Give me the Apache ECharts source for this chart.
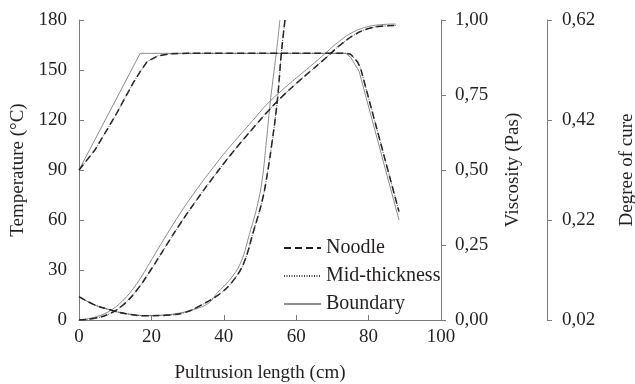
<!DOCTYPE html>
<html>
<head>
<meta charset="utf-8">
<script src="https://cdn.jsdelivr.net/npm/echarts@6/dist/echarts.min.js"></script>
<style>
  html, body { margin: 0; padding: 0; background: #fff; }
  #chart { width: 635px; height: 384px; }
</style>
</head>
<body>
<div id="chart"></div>
<script>
// legend names
var positions = ['Noodle', 'Mid-thickness', 'Boundary'];

// temperature (°C) vs pultrusion length (cm)
var tempNoodle = [[0, 90], [4.4, 102], [9.9, 122], [14.9, 142], [16.9, 149], [18.8, 155], [21.8, 158.5], [25.2, 159.7], [30, 160], [73.7, 160], [75, 159.5], [76.9, 155], [77.8, 151], [88.4, 65]];
var tempMid = [[0, 90], [4.4, 102], [9.9, 122], [14.9, 142], [16.9, 149], [18.8, 155], [21.8, 158.5], [25.2, 159.7], [30, 160], [73.7, 160], [75, 159.5], [76.9, 155], [77.8, 151], [88.4, 65]];
var tempBoundary = [[0, 90], [16.9, 160], [73.7, 160], [75.1, 157.5], [77.4, 149], [88.4, 60]];

// viscosity (Pas)
var viscNoodle = [[0, 0.078], [4, 0.052], [8.5, 0.034], [13, 0.021], [18.5, 0.014], [24, 0.016], [29, 0.024], [33.5, 0.048], [39.1, 0.089], [42.7, 0.133], [45.5, 0.189], [48.3, 0.30], [50.2, 0.378], [51.5, 0.45], [53.3, 0.59], [54.8, 0.733], [55.9, 0.89], [56.9, 1.0]];
var viscMid = [[0, 0.078], [4, 0.052], [8.5, 0.034], [13, 0.021], [18.5, 0.014], [24, 0.016], [29, 0.024], [33.5, 0.048], [39.1, 0.089], [42.7, 0.133], [45.5, 0.189], [48.3, 0.30], [50.2, 0.378], [51.5, 0.45], [53.3, 0.59], [54.8, 0.733], [55.9, 0.89], [56.9, 1.0]];
var viscBoundary = [[0, 0.078], [4, 0.052], [8.5, 0.034], [13, 0.021], [18.5, 0.015], [24, 0.017], [29, 0.026], [33, 0.040], [36, 0.058], [38.1, 0.089], [41.5, 0.132], [44.6, 0.189], [47.4, 0.30], [49.2, 0.378], [50.6, 0.467], [51.8, 0.6], [52.9, 0.733], [54.5, 0.89], [55.5, 1.0]];

// degree of cure
var cureNoodle = [[0, 0.02], [4, 0.023], [8, 0.031], [12, 0.049], [16, 0.08], [20, 0.122], [24, 0.168], [28, 0.213], [32, 0.255], [36, 0.295], [40, 0.333], [44, 0.369], [48, 0.403], [52, 0.436], [56, 0.466], [60, 0.493], [64, 0.518], [68, 0.543], [72, 0.569], [76, 0.59], [80, 0.603], [84, 0.608], [87.5, 0.609]];
var cureMid = [[0, 0.02], [4, 0.023], [8, 0.031], [12, 0.049], [16, 0.08], [20, 0.122], [24, 0.168], [28, 0.213], [32, 0.255], [36, 0.295], [40, 0.333], [44, 0.369], [48, 0.403], [52, 0.436], [56, 0.466], [60, 0.493], [64, 0.518], [68, 0.543], [72, 0.569], [76, 0.59], [80, 0.603], [84, 0.608], [87.5, 0.609]];
var cureBoundary = [[0, 0.02], [4, 0.025], [8, 0.036], [12, 0.058], [16, 0.093], [20, 0.14], [24, 0.188], [28, 0.234], [32, 0.276], [36, 0.315], [40, 0.352], [44, 0.386], [48, 0.419], [52, 0.452], [56, 0.479], [60, 0.504], [64, 0.528], [68, 0.553], [72, 0.578], [76, 0.597], [80, 0.607], [84, 0.611], [87.5, 0.612]];

var font = '"Liberation Serif", "Times New Roman", serif';
var txt = '#231f20';
var axisGray = '#7a7a7a';

var styles = {
    'Boundary': { color: '#8c8c8c', width: 1, type: 'solid' },
    'Noodle': { color: '#1a1a1a', width: 1.5, type: [7, 4] },
    'Mid-thickness': { color: '#444', width: 1, type: [1, 1.5] }
};

function comma(v) {
    return v.toFixed(2).replace('.', ',');
}

function mk(name, data, axis, smooth) {
    return {
        name: name,
        type: 'line',
        yAxisIndex: axis,
        data: data,
        symbol: 'none',
        smooth: smooth ? 0.4 : false,
        lineStyle: styles[name],
        itemStyle: { color: styles[name].color },
        z: name == 'Boundary' ? 1 : (name == 'Noodle' ? 2 : 3)
    };
}

var chart = echarts.init(document.getElementById('chart'));

var yBase = {
    type: 'value',
    splitLine: { show: false },
    axisLine: { show: true, lineStyle: { color: axisGray, width: 1 } },
    axisTick: { show: true, length: 5, lineStyle: { color: axisGray } },
    axisLabel: { color: txt, fontFamily: font, fontSize: 19 },
    nameLocation: 'middle',
    nameRotate: 90,
    nameTextStyle: { color: txt, fontFamily: font, fontSize: 19 }
};

var option = {
    animation: false,
    backgroundColor: '#fff',
    grid: { left: 79, right: 194, top: 20, bottom: 64, containLabel: false, outerBoundsMode: 'none' },
    legend: {
        data: positions,
        orient: 'vertical',
        left: 283,
        top: 238,
        padding: 0,
        itemWidth: 37,
        itemHeight: 14,
        itemGap: 8,
        itemStyle: { opacity: 0 },
        textStyle: { color: txt, fontFamily: font, fontSize: 20 }
    },
    xAxis: {
        type: 'value',
        min: 0, max: 100, interval: 20,
        name: 'Pultrusion length (cm)',
        nameLocation: 'middle',
        nameGap: 44,
        nameTextStyle: { color: txt, fontFamily: font, fontSize: 19 },
        splitLine: { show: false },
        axisLine: { show: true, lineStyle: { color: axisGray, width: 1 } },
        axisTick: { show: true, inside: true, length: 5, lineStyle: { color: axisGray } },
        axisLabel: { color: txt, fontFamily: font, fontSize: 19, margin: 8 }
    },
    yAxis: [
        Object.assign({}, yBase, {
            position: 'left',
            min: 0, max: 180, interval: 30,
            name: 'Temperature (°C)',
            nameGap: 51,
            axisTick: { show: true, inside: true, length: 5, lineStyle: { color: axisGray } },
            axisLabel: Object.assign({}, yBase.axisLabel, { margin: 12 })
        }),
        Object.assign({}, yBase, {
            position: 'right',
            min: 0, max: 1, interval: 0.25,
            name: 'Viscosity (Pas)',
            nameGap: 63,
            axisLabel: Object.assign({}, yBase.axisLabel, { margin: 14, formatter: comma })
        }),
        Object.assign({}, yBase, {
            position: 'right',
            offset: 106,
            min: 0.02, max: 0.62, interval: 0.2,
            name: 'Degree of cure',
            nameGap: 71,
            axisLabel: Object.assign({}, yBase.axisLabel, { margin: 15, formatter: comma })
        })
    ],
    series: [
        mk('Boundary', tempBoundary, 0, false),
        mk('Boundary', viscBoundary, 1, true),
        mk('Boundary', cureBoundary, 2, true),
        mk('Noodle', tempNoodle, 0, false),
        mk('Noodle', viscNoodle, 1, true),
        mk('Noodle', cureNoodle, 2, true),
        mk('Mid-thickness', tempMid, 0, false),
        mk('Mid-thickness', viscMid, 1, true),
        mk('Mid-thickness', cureMid, 2, true)
    ]
};

chart.setOption(option);
window.addEventListener('resize', function () {
    chart.resize();
});
</script>
</body>
</html>
